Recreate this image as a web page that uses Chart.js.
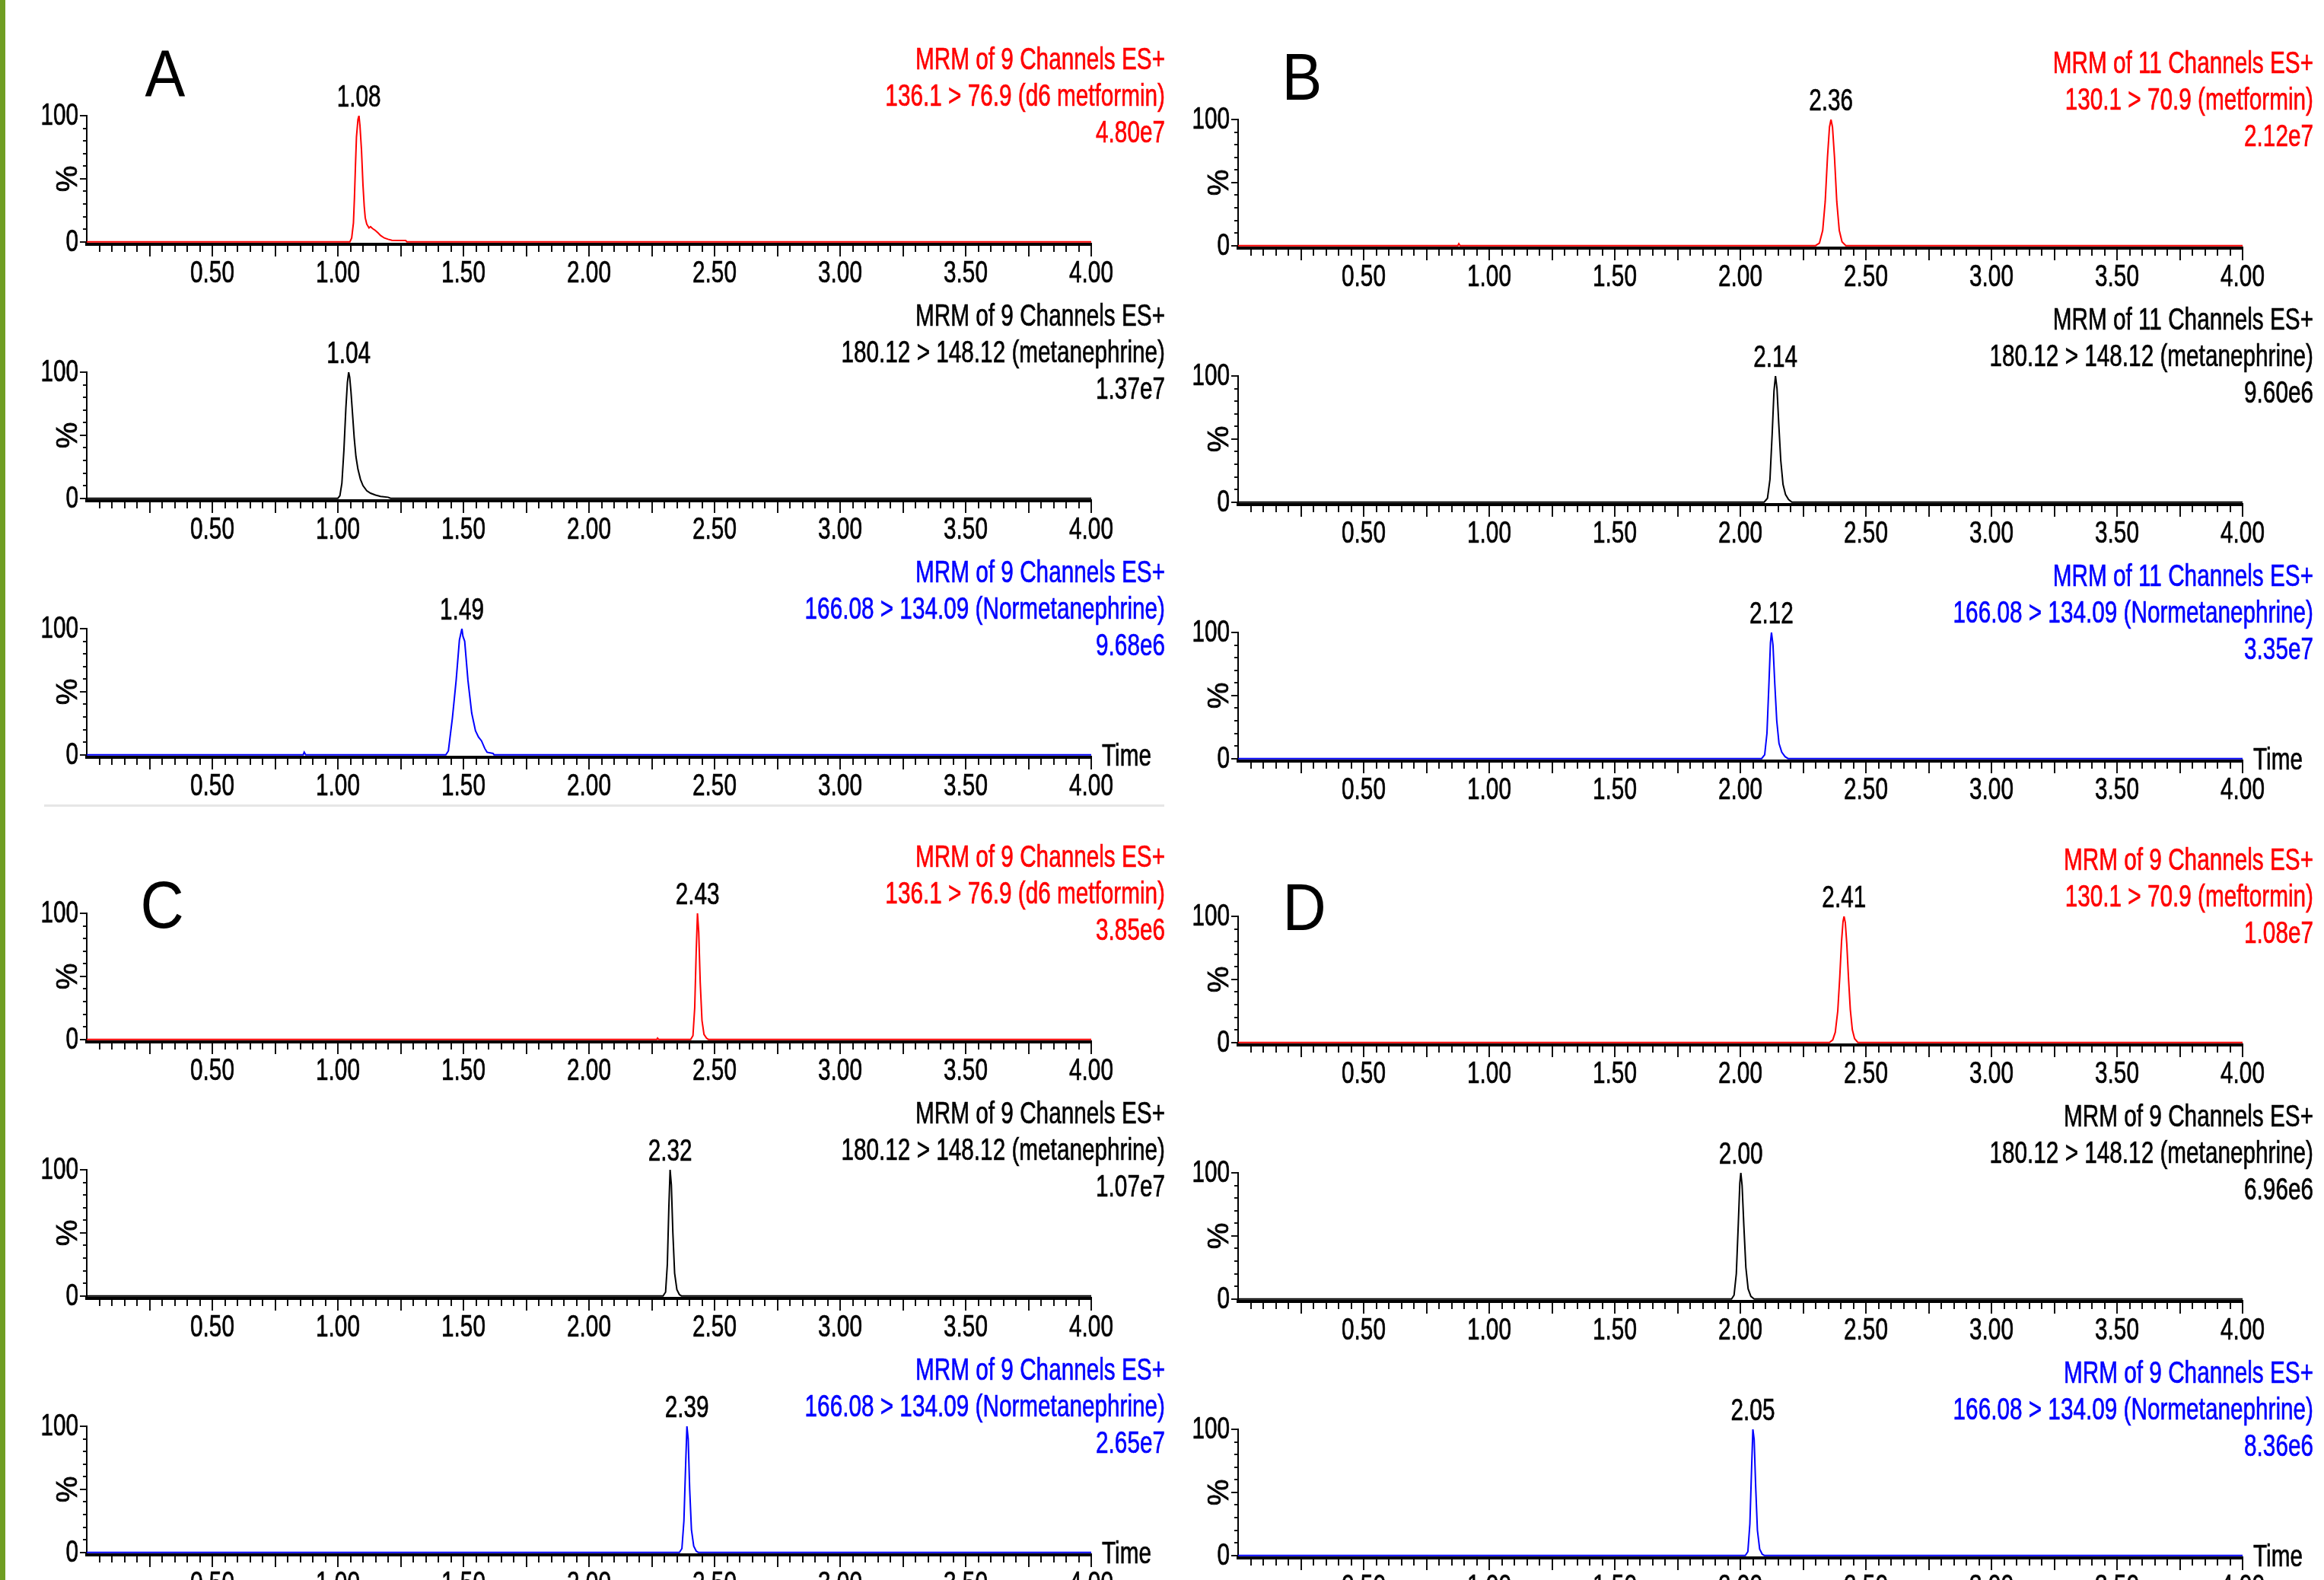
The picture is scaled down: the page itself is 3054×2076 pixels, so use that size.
<!DOCTYPE html>
<html>
<head>
<meta charset="utf-8">
<script src="https://cdn.jsdelivr.net/npm/chart.js@4.4.0/dist/chart.umd.min.js"></script>
<style>
html, body { margin: 0; padding: 0; background: #fff; width: 3054px; height: 2076px; overflow: hidden; position: relative; }
canvas { position: absolute; }
.bar { position: absolute; left: 0; top: 0; width: 7px; height: 2076px; background: #6f9e22; }
.sep { position: absolute; left: 58px; top: 1057px; width: 1472px; height: 3px; background: #e6e6e6; }
.letter { position: absolute; font-family: "Liberation Sans", Arial, sans-serif; font-size: 87px; line-height: 1; color: #000;
  transform: translate(-50%, -50%) scaleX(0.91); }
</style>
</head>
<body>
<div class="bar"></div>
<div class="sep"></div>
<div class="letter" style="left:217px;top:96px">A</div>
<div class="letter" style="left:1711px;top:100px">B</div>
<div class="letter" style="left:213px;top:1188px">C</div>
<div class="letter" style="left:1714px;top:1191px">D</div>
<script>
// tick labels
const timeTickLabels = ['0.50', '1.00', '1.50', '2.00', '2.50', '3.00', '3.50', '4.00'];
const percentTickLabels = ['0', '100'];

// [time (min), intensity (%)]
// A
const aD6Metformin = [[0,0],[1.048,0],[1.055,3],[1.062,15],[1.066,35],[1.070,60],[1.074,83],[1.080,97],[1.084,100],[1.088,92],[1.094,73],[1.100,45],[1.105,28],[1.109,19],[1.115,14],[1.124,11],[1.130,12],[1.138,10.5],[1.149,9],[1.16,7],[1.17,5],[1.185,3],[1.2,2],[1.215,1.2],[1.27,1],[1.275,0],[4,0]];
const aMetanephrine = [[0,0],[1.0,0],[1.008,2],[1.016,12],[1.024,38],[1.032,72],[1.038,92],[1.043,100],[1.047,96],[1.052,85],[1.058,68],[1.065,48],[1.072,33],[1.08,23],[1.09,15],[1.10,10],[1.115,6],[1.13,4],[1.15,2.5],[1.17,1.5],[1.2,0.8],[1.21,0],[4,0]];
const aNormetanephrine = [[0,0],[0.862,0],[0.866,2],[0.872,0],[1.43,0],[1.44,3],[1.456,29],[1.471,59],[1.484,91],[1.494,100],[1.498,94],[1.505,90],[1.518,59],[1.533,33],[1.548,19],[1.56,14],[1.572,11],[1.585,5],[1.594,2],[1.618,1],[1.622,0],[4,0]];
// B
const bMetformin = [[0,0],[0.875,0],[0.879,1.5],[0.884,0],[2.30,0],[2.315,2],[2.328,12],[2.338,35],[2.347,70],[2.355,94],[2.361,100],[2.367,94],[2.375,70],[2.384,35],[2.394,12],[2.405,3],[2.42,0],[4,0]];
const bMetanephrine = [[0,0],[2.095,0],[2.108,3],[2.118,18],[2.127,55],[2.134,88],[2.14,100],[2.146,90],[2.153,62],[2.161,33],[2.17,14],[2.18,6],[2.192,2],[2.205,0],[4,0]];
const bNormetanephrine = [[0,0],[2.085,0],[2.097,3],[2.106,20],[2.114,60],[2.12,92],[2.124,100],[2.13,90],[2.137,60],[2.145,30],[2.154,12],[2.165,5],[2.178,1.5],[2.19,0],[4,0]];
// C
const cD6Metformin = [[0,0],[2.27,0],[2.273,1],[2.277,0],[2.405,0],[2.414,3],[2.421,25],[2.427,70],[2.432,100],[2.437,85],[2.443,45],[2.45,15],[2.458,4],[2.468,1],[2.475,0],[4,0]];
const cMetanephrine = [[0,0],[2.295,0],[2.305,3],[2.312,25],[2.318,70],[2.323,100],[2.328,88],[2.334,50],[2.341,18],[2.35,5],[2.36,1],[2.368,0],[4,0]];
const cNormetanephrine = [[0,0],[2.36,0],[2.37,3],[2.378,25],[2.385,70],[2.39,100],[2.395,90],[2.401,50],[2.408,18],[2.417,5],[2.427,1],[2.435,0],[4,0]];
// D
const dMetformin = [[0,0],[2.355,0],[2.368,2],[2.378,8],[2.388,25],[2.396,52],[2.403,80],[2.409,96],[2.413,100],[2.418,95],[2.424,78],[2.431,50],[2.438,26],[2.446,10],[2.455,3],[2.468,0],[4,0]];
const dMetanephrine = [[0,0],[1.965,0],[1.975,3],[1.984,20],[1.992,60],[1.998,92],[2.002,100],[2.007,90],[2.014,58],[2.022,25],[2.031,8],[2.042,2],[2.055,0],[4,0]];
const dNormetanephrine = [[0,0],[2.02,0],[2.03,3],[2.038,25],[2.045,70],[2.05,100],[2.055,92],[2.061,55],[2.068,20],[2.077,5],[2.087,1],[2.095,0],[4,0]];

// header texts
const headersA = [
  ['MRM of 9 Channels ES+', '136.1 > 76.9 (d6 metformin)', '4.80e7'],
  ['MRM of 9 Channels ES+', '180.12 > 148.12 (metanephrine)', '1.37e7'],
  ['MRM of 9 Channels ES+', '166.08 > 134.09 (Normetanephrine)', '9.68e6']
];
const headersB = [
  ['MRM of 11 Channels ES+', '130.1 > 70.9 (metformin)', '2.12e7'],
  ['MRM of 11 Channels ES+', '180.12 > 148.12 (metanephrine)', '9.60e6'],
  ['MRM of 11 Channels ES+', '166.08 > 134.09 (Normetanephrine)', '3.35e7']
];
const headersC = [
  ['MRM of 9 Channels ES+', '136.1 > 76.9 (d6 metformin)', '3.85e6'],
  ['MRM of 9 Channels ES+', '180.12 > 148.12 (metanephrine)', '1.07e7'],
  ['MRM of 9 Channels ES+', '166.08 > 134.09 (Normetanephrine)', '2.65e7']
];
const headersD = [
  ['MRM of 9 Channels ES+', '130.1 > 70.9 (meftormin)', '1.08e7'],
  ['MRM of 9 Channels ES+', '180.12 > 148.12 (metanephrine)', '6.96e6'],
  ['MRM of 9 Channels ES+', '166.08 > 134.09 (Normetanephrine)', '8.36e6']
];
const peakLabelsA = ['1.08', '1.04', '1.49'];
const peakLabelsB = ['2.36', '2.14', '2.12'];
const peakLabelsC = ['2.43', '2.32', '2.39'];
const peakLabelsD = ['2.41', '2.00', '2.05'];

const traceColors = ['#ff0000', '#000000', '#0000ff'];

// layout (page pixels)
const colX0 = [114, 1627];
const headerRight = [1531, 3040];
const plotW = 1320;
const rowTops = { A: [152, 489, 826], B: [157, 494, 831], C: [1200, 1537, 1874], D: [1204, 1541, 1878] };

const FONT = '"Liberation Sans", Arial, Helvetica, sans-serif';
const SQ = 0.725;  // the original text is squeezed horizontally

function drawText(ctx, s, x, y, align, color, size, sx) {
  ctx.save();
  ctx.translate(x, y);
  ctx.scale(sx, 1);
  ctx.font = size + 'px ' + FONT;
  ctx.textAlign = align;
  ctx.textBaseline = 'middle';
  ctx.fillStyle = color;
  ctx.strokeStyle = color;
  ctx.lineWidth = 0.7;
  ctx.fillText(s, 0, 0);
  ctx.strokeText(s, 0, 0);
  ctx.restore();
}

const chromPlugin = {
  id: 'chrom',
  afterDraw(chart, args, opts) {
    const ctx = chart.ctx;
    const xs = chart.scales.x, ys = chart.scales.y;
    const y0 = ys.getPixelForValue(0), y100 = ys.getPixelForValue(100);
    const xl = xs.getPixelForValue(0), xr = xs.getPixelForValue(4);
    const axisBottom = chart.chartArea.bottom + 2;

    ctx.save();
    ctx.strokeStyle = '#111';
    ctx.lineWidth = 2;
    ctx.beginPath();
    for (let i = 1; i <= 80; i++) {
      const px = Math.round(xs.getPixelForValue(i * 0.05));
      const len = i % 5 === 0 ? 14 : 8;
      ctx.moveTo(px, axisBottom);
      ctx.lineTo(px, axisBottom + len);
    }
    for (let i = 0; i <= 10; i++) {
      const py = Math.round(ys.getPixelForValue(i * 10));
      const len = (i % 5 === 0) ? 8 : 4;
      ctx.moveTo(xl - 1, py);
      ctx.lineTo(xl - 1 - len, py);
    }
    ctx.stroke();
    ctx.restore();

    timeTickLabels.forEach(l => {
      drawText(ctx, l, xs.getPixelForValue(parseFloat(l)), y0 + 42, 'center', '#000', 41, SQ);
    });
    percentTickLabels.forEach(l => {
      drawText(ctx, l, xl - 11, ys.getPixelForValue(parseFloat(l)) + 1, 'right', '#000', 41, SQ);
    });

    // rotated "%"
    ctx.save();
    ctx.translate(xl - 24, (y0 + y100) / 2);
    ctx.rotate(-Math.PI / 2);
    ctx.scale(0.95, 0.95);
    ctx.font = '41px ' + FONT;
    ctx.textAlign = 'center';
    ctx.textBaseline = 'middle';
    ctx.fillStyle = '#000';
    ctx.strokeStyle = '#000';
    ctx.lineWidth = 0.8;
    ctx.fillText('%', 0, 0);
    ctx.strokeText('%', 0, 0);
    ctx.restore();

    // header lines
    const offs = [-72, -24, 24];
    opts.header.forEach((line, k) => {
      drawText(ctx, line, opts.headerX, y100 + offs[k], 'right', opts.color, 41, SQ);
    });

    // retention time label above the apex
    const data = chart.data.datasets[0].data;
    let top = data[0];
    data.forEach(d => { if (d[1] > top[1]) top = d; });
    drawText(ctx, opts.peak, xs.getPixelForValue(top[0]), y100 - 23, 'center', '#000', 41, SQ);

    if (opts.time) {
      drawText(ctx, 'Time', xr + 14, y0 + 3, 'left', '#000', 41, SQ);
    }
  }
};

const groups = [
  { key: 'A', col: 0, series: [aD6Metformin, aMetanephrine, aNormetanephrine], headers: headersA, peaks: peakLabelsA },
  { key: 'B', col: 1, series: [bMetformin, bMetanephrine, bNormetanephrine], headers: headersB, peaks: peakLabelsB },
  { key: 'C', col: 0, series: [cD6Metformin, cMetanephrine, cNormetanephrine], headers: headersC, peaks: peakLabelsC },
  { key: 'D', col: 1, series: [dMetformin, dMetanephrine, dNormetanephrine], headers: headersD, peaks: peakLabelsD }
];

groups.forEach(g => {
  g.series.forEach((series, r) => {
    const panelTop = rowTops[g.key][r];
    const left = colX0[g.col] - 110;
    const width = headerRight[g.col] + 12 - left;
    const height = 349;
    const cv = document.createElement('canvas');
    cv.width = width;
    cv.height = height;
    cv.style.left = left + 'px';
    cv.style.top = (panelTop - 110) + 'px';
    document.body.appendChild(cv);

    new Chart(cv, {
      type: 'line',
      data: {
        datasets: [{
          data: series,
          borderColor: traceColors[r],
          borderWidth: 2,
          pointRadius: 0,
          tension: 0,
          fill: false
        }]
      },
      options: {
        responsive: false,
        animation: false,
        events: [],
        devicePixelRatio: 1,
        layout: { padding: { left: 110, top: 110, right: width - 110 - plotW, bottom: 70 } },
        plugins: {
          legend: { display: false },
          tooltip: { enabled: false },
          chrom: {
            header: g.headers[r],
            headerX: headerRight[g.col] - left,
            color: traceColors[r],
            peak: g.peaks[r],
            time: r === 2
          }
        },
        scales: {
          x: {
            type: 'linear', min: 0, max: 4,
            grid: { display: false, drawTicks: false },
            ticks: { display: false },
            border: { display: true, color: '#000', width: 4 }
          },
          y: {
            type: 'linear', min: -2, max: 100,
            grid: { display: false, drawTicks: false },
            ticks: { display: false },
            border: { display: true, color: '#000', width: 2 }
          }
        }
      },
      plugins: [chromPlugin]
    });
  });
});
</script>
</body>
</html>
